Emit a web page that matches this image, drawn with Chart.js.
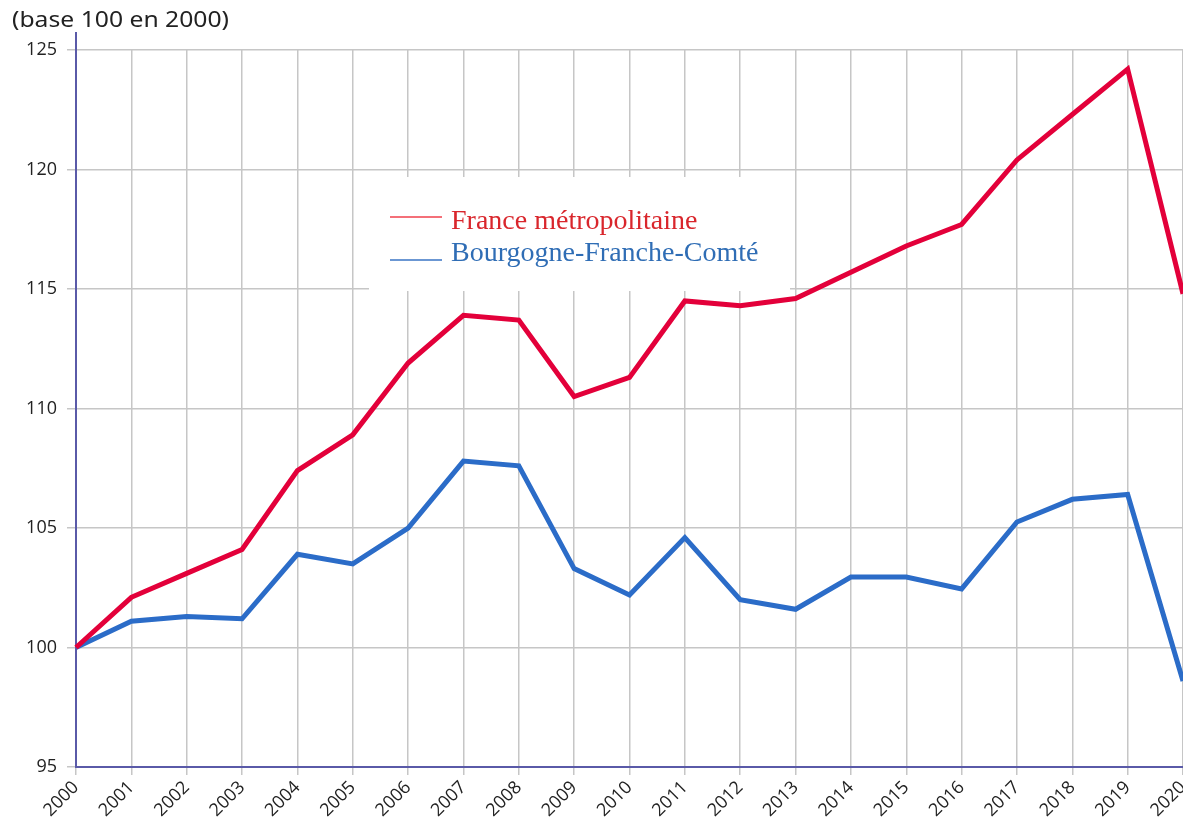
<!DOCTYPE html>
<html>
<head>
<meta charset="utf-8">
<script src="https://cdn.jsdelivr.net/npm/chart.js@4/dist/chart.umd.min.js"></script>
<style>
  html, body { margin: 0; padding: 0; background: #fff; }
  #wrap { width: 1183px; height: 828px; position: relative; }
</style>
</head>
<body>
<div id="wrap"><canvas id="myChart"></canvas></div>
<script>
// Values (index, base 100 in 2000)
const years = ["2000", "2001", "2002", "2003", "2004", "2005", "2006", "2007", "2008", "2009",
  "2010", "2011", "2012", "2013", "2014", "2015", "2016", "2017", "2018", "2019", "2020"];
const franceMetro = [100, 102.1, 103.1, 104.1, 107.4, 108.9, 111.9, 113.9, 113.7, 110.5,
  111.3, 114.5, 114.3, 114.6, 115.7, 116.8, 117.7, 120.4, 122.3, 124.2, 114.8];
const bourgogneFC = [100, 101.1, 101.3, 101.2, 103.9, 103.5, 105.0, 107.8, 107.6, 103.3,
  102.2, 104.6, 102.0, 101.6, 102.95, 102.95, 102.45, 105.25, 106.2, 106.4, 98.6];
const seriesNames = ["France métropolitaine", "Bourgogne-Franche-Comté"];
const yMin = 95;
const yMax = 125;
const yStep = 5;
const titleText = "(base 100 en 2000)";

const axisColor = "#5a5aa8";
const gridColor = "#c6c6c6";

// title top-left + the small stub of the y axis above the plot
const titlePlugin = {
  id: "titlePlugin",
  afterDraw(chart) {
    const ctx = chart.ctx;
    ctx.save();
    ctx.font = "21px 'Noto Sans'";
    ctx.fillStyle = "#222";
    ctx.textBaseline = "alphabetic";
    const w = ctx.measureText(titleText).width;
    ctx.translate(12, 27);
    ctx.scale(217 / w, 1);
    ctx.fillText(titleText, 0, 0);
    ctx.restore();

    const area = chart.chartArea;
    ctx.save();
    ctx.strokeStyle = axisColor;
    ctx.lineWidth = 2;
    ctx.beginPath();
    ctx.moveTo(area.left, 32);
    ctx.lineTo(area.left, area.top);
    ctx.stroke();
    ctx.restore();
  }
};

// legend box inside the plot
const legendPlugin = {
  id: "legendPlugin",
  beforeDatasetsDraw(chart) {
    const ctx = chart.ctx;
    ctx.save();
    ctx.fillStyle = "#fff";
    ctx.fillRect(369, 177, 421, 114);
    ctx.restore();
  },
  afterDraw(chart) {
    const ctx = chart.ctx;
    const rows = [
      { label: chart.data.datasets[0].label, line: "#f0404c", text: "#d9262c", ly: 217, ty: 229 },
      { label: chart.data.datasets[1].label, line: "#3a74c4", text: "#2f6db5", ly: 260, ty: 261 }
    ];
    ctx.save();
    ctx.font = "28px 'Liberation Serif'";
    ctx.textBaseline = "alphabetic";
    rows.forEach(r => {
      ctx.strokeStyle = r.line;
      ctx.lineWidth = 1.5;
      ctx.beginPath();
      ctx.moveTo(390, r.ly);
      ctx.lineTo(442, r.ly);
      ctx.stroke();
      ctx.fillStyle = r.text;
      ctx.fillText(r.label, 451, r.ty);
    });
    ctx.restore();
  }
};

const ctx = document.getElementById("myChart").getContext("2d");
const chart = new Chart(ctx, {
  type: "line",
  data: {
    labels: years,
    datasets: [
      {
        label: seriesNames[0],
        data: franceMetro,
        borderColor: "#e3003a",
        borderWidth: 5,
        pointRadius: 0,
        tension: 0,
        fill: false
      },
      {
        label: seriesNames[1],
        data: bourgogneFC,
        borderColor: "#2b6cc8",
        borderWidth: 5,
        pointRadius: 0,
        tension: 0,
        fill: false
      }
    ]
  },
  options: {
    responsive: true,
    maintainAspectRatio: false,
    animation: false,
    layout: { padding: { top: 50, left: 0, right: 0, bottom: 0 } },
    plugins: {
      legend: { display: false },
      title: { display: false },
      tooltip: { enabled: false }
    },
    scales: {
      x: {
        offset: false,
        grid: { color: gridColor, lineWidth: 1.5, tickLength: 8, tickColor: gridColor },
        border: { color: axisColor, width: 2 },
        ticks: {
          font: { family: "'Open Sans'", size: 18 },
          color: "#222",
          maxRotation: 45,
          minRotation: 45,
          autoSkip: false,
          padding: 2
        },
        afterFit(scale) {
          scale.height = 61;
          scale.paddingLeft = 0;
          scale.paddingRight = 0;
        }
      },
      y: {
        min: yMin,
        max: yMax,
        grid: { color: gridColor, lineWidth: 1.5, tickLength: 9, tickColor: gridColor },
        border: { color: axisColor, width: 2 },
        ticks: {
          stepSize: yStep,
          font: { family: "'Open Sans'", size: 18 },
          color: "#222",
          padding: 10
        },
        afterFit(scale) {
          scale.width = 76;
          scale.paddingTop = 0;
          scale.paddingBottom = 0;
        }
      }
    }
  },
  plugins: [titlePlugin, legendPlugin]
});
</script>
</body>
</html>
